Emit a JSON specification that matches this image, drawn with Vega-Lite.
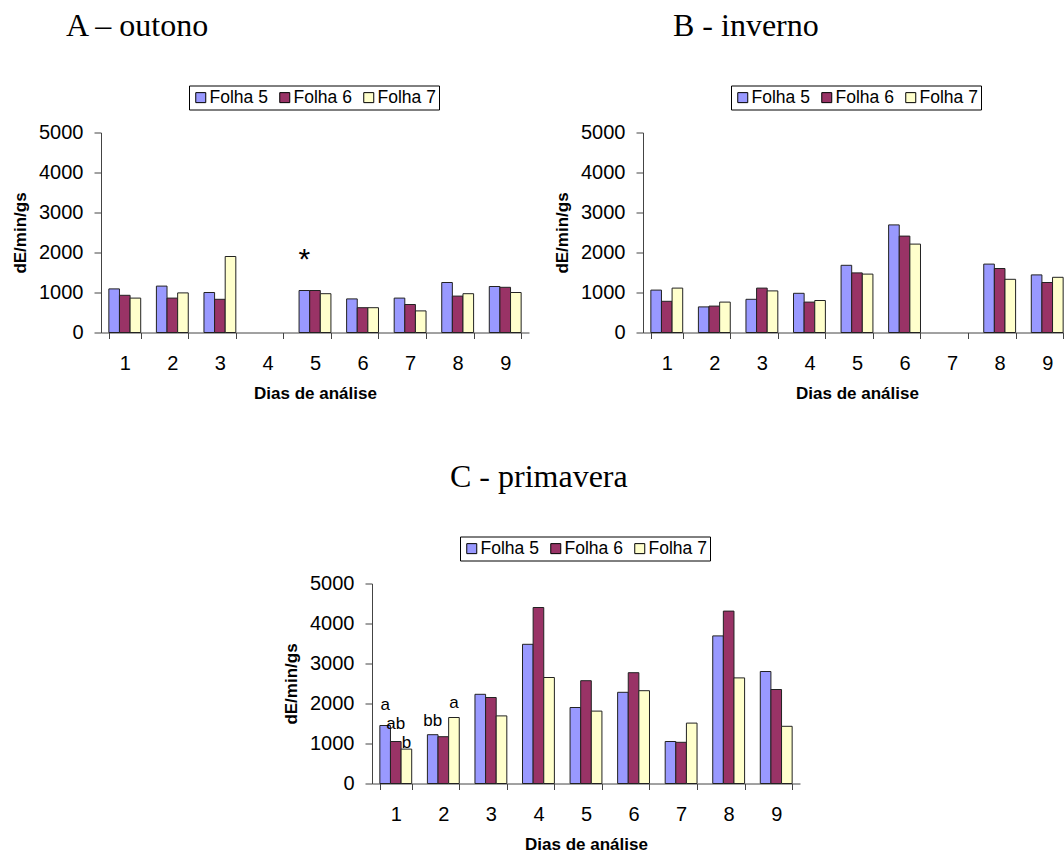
{
  "$schema": "https://vega.github.io/schema/vega-lite/v6.json",
  "background": "white",
  "padding": {"left": 11, "top": 9.5, "right": 0, "bottom": 0},
  "autosize": {"type": "pad"},
  "config": {
    "view": {"stroke": null},
    "font": "Liberation Sans",
    "axisX": {
      "titleFontSize": 17, "titleFontWeight": "bold", "titleColor": "black",
      "labelAngle": 0, "labelFontSize": 20, "labelColor": "black", "labelPadding": 15,
      "tickSize": 6, "tickBand": "extent", "domainColor": "#444", "tickColor": "#444",
      "titlePadding": 12, "grid": false
    },
    "axisY": {
      "values": [0, 1000, 2000, 3000, 4000, 5000], "format": "d",
      "titleFontSize": 17, "titleFontWeight": "bold", "titleColor": "black",
      "labelFontSize": 20, "labelColor": "black", "labelPadding": 11,
      "tickSize": 7, "domainColor": "#444", "tickColor": "#444",
      "titlePadding": 9, "grid": false
    },
    "legend": {
      "orient": "none", "legendX": 88, "legendY": -47, "direction": "horizontal",
      "title": null, "strokeColor": "black", "strokeWidth": 1, "padding": 3, "fillColor": "white",
      "symbolType": "square", "symbolSize": 100, "symbolStrokeColor": "black", "symbolStrokeWidth": 1,
      "labelFontSize": 17.5, "labelColor": "black", "labelOffset": 0, "columnPadding": 8
    },
    "title": {"font": "Liberation Serif", "fontSize": 32, "fontWeight": "normal", "color": "black", "anchor": "start", "frame": "group"}
  },
  "datasets": {
    "bars": [
      {"panel": "A", "day": 1, "folha": "Folha 5", "value": 1090},
      {"panel": "A", "day": 1, "folha": "Folha 6", "value": 930},
      {"panel": "A", "day": 1, "folha": "Folha 7", "value": 860},
      {"panel": "A", "day": 2, "folha": "Folha 5", "value": 1160},
      {"panel": "A", "day": 2, "folha": "Folha 6", "value": 860},
      {"panel": "A", "day": 2, "folha": "Folha 7", "value": 990},
      {"panel": "A", "day": 3, "folha": "Folha 5", "value": 1000},
      {"panel": "A", "day": 3, "folha": "Folha 6", "value": 830},
      {"panel": "A", "day": 3, "folha": "Folha 7", "value": 1900},
      {"panel": "A", "day": 5, "folha": "Folha 5", "value": 1050},
      {"panel": "A", "day": 5, "folha": "Folha 6", "value": 1050},
      {"panel": "A", "day": 5, "folha": "Folha 7", "value": 970},
      {"panel": "A", "day": 6, "folha": "Folha 5", "value": 840},
      {"panel": "A", "day": 6, "folha": "Folha 6", "value": 620},
      {"panel": "A", "day": 6, "folha": "Folha 7", "value": 620},
      {"panel": "A", "day": 7, "folha": "Folha 5", "value": 860},
      {"panel": "A", "day": 7, "folha": "Folha 6", "value": 700},
      {"panel": "A", "day": 7, "folha": "Folha 7", "value": 540},
      {"panel": "A", "day": 8, "folha": "Folha 5", "value": 1250},
      {"panel": "A", "day": 8, "folha": "Folha 6", "value": 910},
      {"panel": "A", "day": 8, "folha": "Folha 7", "value": 970},
      {"panel": "A", "day": 9, "folha": "Folha 5", "value": 1150},
      {"panel": "A", "day": 9, "folha": "Folha 6", "value": 1130},
      {"panel": "A", "day": 9, "folha": "Folha 7", "value": 1000},
      {"panel": "B", "day": 1, "folha": "Folha 5", "value": 1060},
      {"panel": "B", "day": 1, "folha": "Folha 6", "value": 780},
      {"panel": "B", "day": 1, "folha": "Folha 7", "value": 1110},
      {"panel": "B", "day": 2, "folha": "Folha 5", "value": 640},
      {"panel": "B", "day": 2, "folha": "Folha 6", "value": 660},
      {"panel": "B", "day": 2, "folha": "Folha 7", "value": 760},
      {"panel": "B", "day": 3, "folha": "Folha 5", "value": 830},
      {"panel": "B", "day": 3, "folha": "Folha 6", "value": 1110},
      {"panel": "B", "day": 3, "folha": "Folha 7", "value": 1040},
      {"panel": "B", "day": 4, "folha": "Folha 5", "value": 980},
      {"panel": "B", "day": 4, "folha": "Folha 6", "value": 760},
      {"panel": "B", "day": 4, "folha": "Folha 7", "value": 800},
      {"panel": "B", "day": 5, "folha": "Folha 5", "value": 1680},
      {"panel": "B", "day": 5, "folha": "Folha 6", "value": 1490},
      {"panel": "B", "day": 5, "folha": "Folha 7", "value": 1460},
      {"panel": "B", "day": 6, "folha": "Folha 5", "value": 2690},
      {"panel": "B", "day": 6, "folha": "Folha 6", "value": 2410},
      {"panel": "B", "day": 6, "folha": "Folha 7", "value": 2210},
      {"panel": "B", "day": 8, "folha": "Folha 5", "value": 1710},
      {"panel": "B", "day": 8, "folha": "Folha 6", "value": 1600},
      {"panel": "B", "day": 8, "folha": "Folha 7", "value": 1330},
      {"panel": "B", "day": 9, "folha": "Folha 5", "value": 1440},
      {"panel": "B", "day": 9, "folha": "Folha 6", "value": 1250},
      {"panel": "B", "day": 9, "folha": "Folha 7", "value": 1380},
      {"panel": "C", "day": 1, "folha": "Folha 5", "value": 1450},
      {"panel": "C", "day": 1, "folha": "Folha 6", "value": 1050},
      {"panel": "C", "day": 1, "folha": "Folha 7", "value": 860},
      {"panel": "C", "day": 2, "folha": "Folha 5", "value": 1220},
      {"panel": "C", "day": 2, "folha": "Folha 6", "value": 1170},
      {"panel": "C", "day": 2, "folha": "Folha 7", "value": 1650},
      {"panel": "C", "day": 3, "folha": "Folha 5", "value": 2230},
      {"panel": "C", "day": 3, "folha": "Folha 6", "value": 2150},
      {"panel": "C", "day": 3, "folha": "Folha 7", "value": 1690},
      {"panel": "C", "day": 4, "folha": "Folha 5", "value": 3480},
      {"panel": "C", "day": 4, "folha": "Folha 6", "value": 4400},
      {"panel": "C", "day": 4, "folha": "Folha 7", "value": 2650},
      {"panel": "C", "day": 5, "folha": "Folha 5", "value": 1900},
      {"panel": "C", "day": 5, "folha": "Folha 6", "value": 2570},
      {"panel": "C", "day": 5, "folha": "Folha 7", "value": 1810},
      {"panel": "C", "day": 6, "folha": "Folha 5", "value": 2280},
      {"panel": "C", "day": 6, "folha": "Folha 6", "value": 2770},
      {"panel": "C", "day": 6, "folha": "Folha 7", "value": 2320},
      {"panel": "C", "day": 7, "folha": "Folha 5", "value": 1050},
      {"panel": "C", "day": 7, "folha": "Folha 6", "value": 1030},
      {"panel": "C", "day": 7, "folha": "Folha 7", "value": 1510},
      {"panel": "C", "day": 8, "folha": "Folha 5", "value": 3690},
      {"panel": "C", "day": 8, "folha": "Folha 6", "value": 4310},
      {"panel": "C", "day": 8, "folha": "Folha 7", "value": 2640},
      {"panel": "C", "day": 9, "folha": "Folha 5", "value": 2800},
      {"panel": "C", "day": 9, "folha": "Folha 6", "value": 2350},
      {"panel": "C", "day": 9, "folha": "Folha 7", "value": 1430}
    ],
    "notes": [
      {"panel": "A", "day": 5, "folha": "Folha 5", "label": "*", "value": 1600},
      {"panel": "C", "day": 1, "folha": "Folha 5", "label": "a", "value": 1832},
      {"panel": "C", "day": 1, "folha": "Folha 6", "label": "ab", "value": 1375},
      {"panel": "C", "day": 1, "folha": "Folha 7", "label": "b", "value": 900},
      {"panel": "C", "day": 2, "folha": "Folha 5", "label": "bb", "value": 1432},
      {"panel": "C", "day": 2, "folha": "Folha 7", "label": "a", "value": 1900}
    ]
  },
  "vconcat": [
    {
      "hconcat": [
        {
          "width": 428, "height": 200,
          "title": {"text": "A – outono", "dx": -35, "offset": 42},
          "layer": [
            {
              "data": {"name": "bars"},
              "transform": [{"filter": "datum.panel === 'A'"}],
              "mark": {"type": "bar", "stroke": "#222", "strokeWidth": 1},
              "encoding": {
                "x": {"field": "day", "type": "ordinal", "scale": {"domain": [1, 2, 3, 4, 5, 6, 7, 8, 9], "paddingInner": 0.33, "paddingOuter": 0.165}, "axis": {"title": "Dias de análise"}},
                "xOffset": {"field": "folha", "type": "nominal", "scale": {"domain": ["Folha 5", "Folha 6", "Folha 7"], "paddingInner": 0, "paddingOuter": 0}},
                "y": {"field": "value", "type": "quantitative", "scale": {"domain": [0, 5000], "nice": false}, "axis": {"title": "dE/min/gs"}},
                "color": {"field": "folha", "type": "nominal", "scale": {"domain": ["Folha 5", "Folha 6", "Folha 7"], "range": ["#9999FF", "#993366", "#FFFFCC"]}}
              }
            },
            {
              "data": {"name": "notes"},
              "transform": [{"filter": "datum.panel === 'A'"}],
              "mark": {"type": "text", "fontSize": 30, "baseline": "alphabetic", "align": "center", "color": "black"},
              "encoding": {
                "x": {"field": "day", "type": "ordinal"},
                "xOffset": {"field": "folha", "type": "nominal"},
                "y": {"field": "value", "type": "quantitative"},
                "text": {"field": "label"}
              }
            }
          ]
        },
        {
          "width": 428, "height": 200,
          "title": {"text": "B - inverno", "dx": 30, "offset": 42},
          "layer": [
            {
              "data": {"name": "bars"},
              "transform": [{"filter": "datum.panel === 'B'"}],
              "mark": {"type": "bar", "stroke": "#222", "strokeWidth": 1},
              "encoding": {
                "x": {"field": "day", "type": "ordinal", "scale": {"domain": [1, 2, 3, 4, 5, 6, 7, 8, 9], "paddingInner": 0.33, "paddingOuter": 0.165}, "axis": {"title": "Dias de análise"}},
                "xOffset": {"field": "folha", "type": "nominal", "scale": {"domain": ["Folha 5", "Folha 6", "Folha 7"], "paddingInner": 0, "paddingOuter": 0}},
                "y": {"field": "value", "type": "quantitative", "scale": {"domain": [0, 5000], "nice": false}, "axis": {"title": "dE/min/gs"}},
                "color": {"field": "folha", "type": "nominal", "scale": {"domain": ["Folha 5", "Folha 6", "Folha 7"], "range": ["#9999FF", "#993366", "#FFFFCC"]}}
              }
            }
          ]
        }
      ],
      "spacing": 114,
      "bounds": "flush",
      "resolve": {"scale": {"color": "independent"}, "legend": {"color": "independent"}}
    },
    {
      "width": 428, "height": 200,
      "title": {"text": "C - primavera", "dx": 78, "offset": 42},
      "layer": [
        {
          "data": {"name": "bars"},
          "transform": [{"filter": "datum.panel === 'C'"}],
          "mark": {"type": "bar", "stroke": "#222", "strokeWidth": 1},
          "encoding": {
            "x": {"field": "day", "type": "ordinal", "scale": {"domain": [1, 2, 3, 4, 5, 6, 7, 8, 9], "paddingInner": 0.33, "paddingOuter": 0.165}, "axis": {"title": "Dias de análise"}},
            "xOffset": {"field": "folha", "type": "nominal", "scale": {"domain": ["Folha 5", "Folha 6", "Folha 7"], "paddingInner": 0, "paddingOuter": 0}},
            "y": {"field": "value", "type": "quantitative", "scale": {"domain": [0, 5000], "nice": false}, "axis": {"title": "dE/min/gs"}},
            "color": {"field": "folha", "type": "nominal", "scale": {"domain": ["Folha 5", "Folha 6", "Folha 7"], "range": ["#9999FF", "#993366", "#FFFFCC"]}}
          }
        },
        {
          "data": {"name": "notes"},
          "transform": [{"filter": "datum.panel === 'C'"}],
          "mark": {"type": "text", "fontSize": 17, "baseline": "alphabetic", "align": "center", "color": "black"},
          "encoding": {
            "x": {"field": "day", "type": "ordinal"},
            "xOffset": {"field": "folha", "type": "nominal"},
            "y": {"field": "value", "type": "quantitative"},
            "text": {"field": "label"}
          }
        }
      ]
    }
  ],
  "spacing": 59,
  "bounds": "full",
  "center": true,
  "resolve": {"scale": {"color": "independent"}, "legend": {"color": "independent"}}
}
